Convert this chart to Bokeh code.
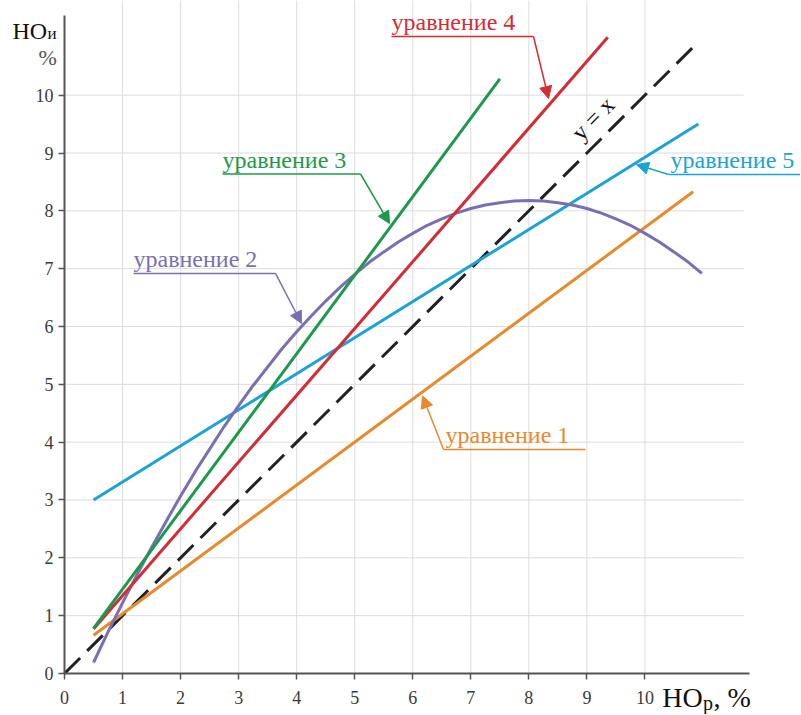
from bokeh.plotting import figure
from bokeh.models import Range1d, FixedTicker, Label, Arrow, NormalHead
from bokeh.embed import file_html
from bokeh.resources import INLINE

# ---- data ----
diag_x = [0.0, 10.9]
diag_y = [0.0, 10.9]

eq1_x = [0.5, 10.83]
eq1_y = [0.66, 8.33]

eq2_x = [0.5, 0.75, 1.0, 1.25, 1.5, 1.75, 2.0, 2.25, 2.5, 2.75, 3.0, 3.25, 3.5, 3.75,
         4.0, 4.25, 4.5, 4.75, 5.0, 5.25, 5.5, 5.75, 6.0, 6.25, 6.5, 6.75, 7.0, 7.25,
         7.5, 7.75, 8.0, 8.25, 8.5, 8.75, 9.0, 9.25, 9.5, 9.75, 10.0, 10.25, 10.5,
         10.75, 10.98]
eq2_y = [0.19, 0.72, 1.22, 1.71, 2.18, 2.63, 3.07, 3.49, 3.88, 4.27, 4.63, 4.98, 5.30, 5.62,
         5.91, 6.18, 6.44, 6.68, 6.90, 7.11, 7.29, 7.46, 7.61, 7.75, 7.86, 7.96, 8.04, 8.10,
         8.14, 8.17, 8.18, 8.17, 8.14, 8.10, 8.04, 7.96, 7.86, 7.75, 7.61, 7.46, 7.29,
         7.11, 6.92]

eq3_x = [0.5, 7.5]
eq3_y = [0.78, 10.28]

eq4_x = [0.5, 9.36]
eq4_y = [0.77, 11.0]

eq5_x = [0.5, 10.92]
eq5_y = [3.0, 9.5]

x_ticks = [0, 1, 2, 3, 4, 5, 6, 7, 8, 9, 10]
y_ticks = [0, 1, 2, 3, 4, 5, 6, 7, 8, 9, 10]
grid_ticks = [1, 2, 3, 4, 5, 6, 7, 8, 9, 10]

labels = ["уравнение 1", "уравнение 2", "уравнение 3", "уравнение 4", "уравнение 5"]

# ---- styles ----
C1 = "#E8892B"
C2 = "#7A6FB3"
C3 = "#1C9A4B"
C4 = "#D52B33"
C5 = "#1AA3D6"
SERIF = "Liberation Serif"

X0, X1 = -1.103, 12.68
Y0, Y1 = -0.709, 11.637

p = figure(width=800, height=714, output_backend="svg", toolbar_location=None,
           x_range=Range1d(X0, X1), y_range=Range1d(Y0, Y1),
           min_border_left=0, min_border_right=0, min_border_top=0,
           min_border_bottom=0)
p.outline_line_color = None
p.background_fill_color = "white"
p.xgrid.visible = False
p.ygrid.visible = False

# light grid, limited to the quadrant of the axes
p.segment(x0=grid_ticks, y0=[0] * len(grid_ticks), x1=grid_ticks,
          y1=[11.64] * len(grid_ticks), line_color="#dcdcdc", line_width=1)
p.segment(x0=[0] * len(grid_ticks), y0=grid_ticks, x1=[11.7] * len(grid_ticks),
          y1=grid_ticks, line_color="#dcdcdc", line_width=1)

for ax in (p.xaxis, p.yaxis):
    ax.fixed_location = 0
    ax.axis_line_color = "#555555"
    ax.axis_line_width = 2
    ax.major_tick_line_color = "#555555"
    ax.major_tick_line_width = 1.5
    ax.major_tick_out = 6
    ax.major_tick_in = 0
    ax.minor_tick_line_color = None
    ax.major_label_text_font = SERIF
    ax.major_label_text_font_size = "18px"
    ax.major_label_text_color = "#3a3a3a"
p.xaxis.ticker = FixedTicker(ticks=x_ticks)
p.yaxis.ticker = FixedTicker(ticks=y_ticks)
p.xaxis.bounds = (0, 11.8)
p.yaxis.bounds = (0, 11.37)
p.xaxis.major_label_standoff = 12
p.yaxis.major_label_standoff = 5

# ---- curves ----
p.line(diag_x, diag_y, line_color="#222222", line_width=3, line_dash="22 10")
p.line(eq1_x, eq1_y, line_color=C1, line_width=3)
p.line(eq5_x, eq5_y, line_color=C5, line_width=3)
p.line(eq2_x, eq2_y, line_color=C2, line_width=3, line_join="round")
p.line(eq4_x, eq4_y, line_color=C4, line_width=3)
p.line(eq3_x, eq3_y, line_color=C3, line_width=3)

# ---- annotations: (text, text x, underline x0, x1, y, arrow start x, tip x, y, colour) ----
ann = [
    (labels[0], 6.564, 6.53, 8.977, 3.873, 6.53, 6.168, 4.80, C1),
    (labels[1], 1.189, 1.189, 3.635, 6.917, 3.635, 4.083, 6.052, C2),
    (labels[2], 2.722, 2.722, 5.10, 8.637, 5.10, 5.60, 7.78, C3),
    (labels[3], 5.634, 5.634, 8.08, 11.015, 8.08, 8.339, 9.943, C4),
    (labels[4], 10.44, 10.407, 12.68, 8.629, 10.407, 9.855, 8.80, C5),
]
for txt, tx, ux0, ux1, uy, sx, tipx, tipy, col in ann:
    p.add_layout(Label(x=tx, y=uy + 0.02, text=txt, text_font=SERIF,
                       text_font_size="24px", text_color=col,
                       text_baseline="bottom"))
    p.line([ux0, ux1], [uy, uy], line_color=col, line_width=1.5)
    p.add_layout(Arrow(x_start=sx, y_start=uy, x_end=tipx, y_end=tipy,
                       line_color=col, line_width=1.5,
                       end=NormalHead(size=12, fill_color=col, line_color=col)))

p.add_layout(Label(x=8.97, y=9.13, text="y = x", text_font=SERIF,
                   text_font_size="24px", text_color="#111111", angle=0.80,
                   text_baseline="bottom"))

# ---- axis titles ----
p.add_layout(Label(x=-0.896, y=10.89, text="HO", text_font=SERIF,
                   text_font_size="24px", text_color="#111111",
                   text_baseline="bottom"))
p.add_layout(Label(x=-0.293, y=10.90, text="и", text_font=SERIF,
                   text_font_size="17px", text_color="#111111",
                   text_baseline="bottom"))
p.add_layout(Label(x=-0.448, y=10.43, text="%", text_font=SERIF,
                   text_font_size="22px", text_color="#555555",
                   text_baseline="bottom"))

p.add_layout(Label(x=10.3, y=-0.69, text="HO", text_font=SERIF,
                   text_font_size="28px", text_color="#111111",
                   text_baseline="bottom"))
p.add_layout(Label(x=11.0, y=-0.70, text="р", text_font=SERIF,
                   text_font_size="20px", text_color="#111111",
                   text_baseline="bottom"))
p.add_layout(Label(x=11.18, y=-0.69, text=", %", text_font=SERIF,
                   text_font_size="28px", text_color="#111111",
                   text_baseline="bottom"))

open("out.html", "w").write(file_html(p, INLINE))
